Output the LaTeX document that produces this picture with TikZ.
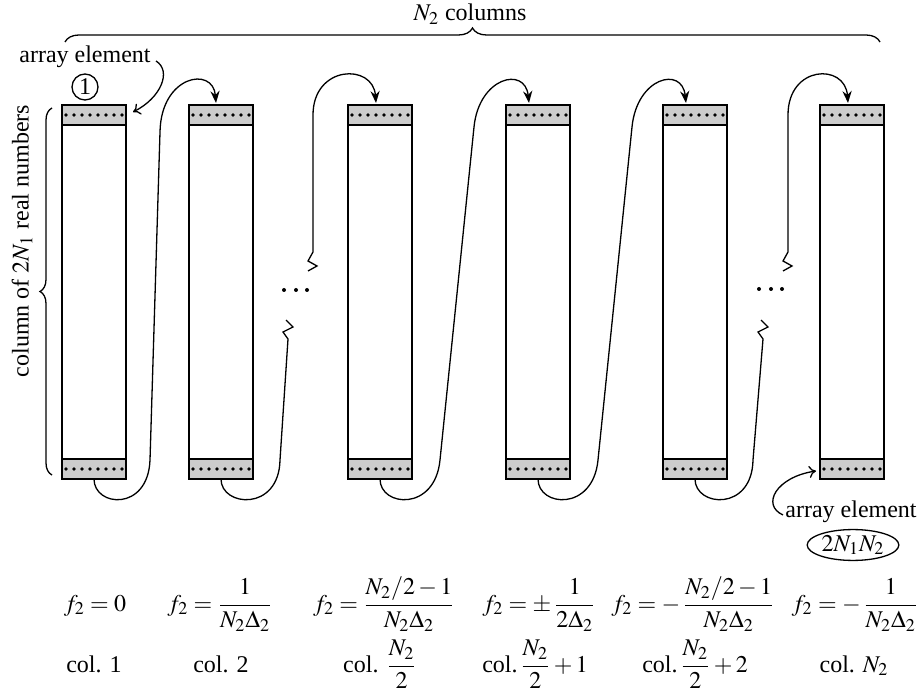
\documentclass[tikz,border=0pt]{standalone}
\usepackage{amsmath}
\usepackage{mathptmx}
\usepackage{fontspec}
\setmainfont{Liberation Serif}
\usetikzlibrary{decorations.pathreplacing,arrows.meta,shapes.geometric,calc}
\tikzset{
  colbox/.style={draw, line width=0.8pt, minimum width=32pt, minimum height=187pt, inner sep=0pt, outer sep=0pt},
  bandfill/.style={fill=black!20, draw, line width=0.8pt},
  conn/.style={line width=0.65pt, -{Stealth[length=6pt,width=4.6pt]}},
  labarrow/.style={line width=0.65pt, -{To[length=3.5pt,width=6pt]}},
  brc/.style={decorate, line width=0.65pt},
  lab/.style={inner sep=1pt},
  frm/.style={anchor=base, inner sep=0pt},
  dotm/.style={fill=black}
}
\begin{document}
\begin{tikzpicture}[x=0.5pt,y=-0.5pt, font=\fontsize{12}{14.4}\selectfont]
\useasboundingbox (0,0) rectangle (920,694);

% columns
\foreach \n/\x in {1/94,2/221,3/380,4/538,5/695,6/852}{
  \node[colbox] (c\n) at (\x,292) {};
  \draw[bandfill] (c\n.north west) rectangle ($(c\n.north east)+(0,20)$);
  \draw[bandfill] ($(c\n.south west)+(0,-20)$) rectangle (c\n.south east);
  \foreach \i in {0,...,7}{
    \fill[dotm] ($(c\n.north west)+(4+8*\i,10)$) circle[radius=0.95pt];
    \fill[dotm] ($(c\n.south west)+(4+8*\i,-10)$) circle[radius=0.95pt];
  }
}

% braces
\draw[brc, decoration={brace, amplitude=7pt}] (65,42) -- (880,42);
\node[lab] (ncols) at (470,14) {$N_2$ columns};
\draw[brc, decoration={brace, amplitude=6pt}] (52,475) -- (52,108);
\node[lab, rotate=90] (colof) at (22,241) {column of $2N_1$ real numbers};

% labels top-left
\node[lab] (ae1) at (85,57) {array element};
\node[circle, draw, line width=0.65pt, minimum size=13pt, inner sep=0pt] (one) at (85,87) {1};
\draw[labarrow] ($(ae1.east)+(3,4)$) .. controls +(16,10) and +(28,-14) .. ($(c1.north east)+(7,7)$);

% labels bottom-right
\node[lab] (ae2) at (851,512) {array element};
\node[ellipse, draw, line width=0.65pt, inner sep=0.5pt] (nn) at (853,545) {$2N_1N_2$};
\draw[labarrow] ($(ae2.west)+(0,3)$) .. controls +(-22,-10) and +(-40,6) .. ($(c6.south west)+(-4,-8)$);

% connector 1 -> 2
\coordinate (b12) at (150,460);
\coordinate (t12) at (160,132);
\draw[conn] (c1.south) .. controls +(0,28) and +(-2,52) .. (b12) -- (t12)
  .. controls +(1,-57) and +(-3,-37) .. ($(c2.north)+(-5,-2)$);

% connector 2 -> 3 (broken)
\coordinate (b23) at (280,460);
\coordinate (z23a) at (288,339);
\coordinate (z23b) at (313,252);
\coordinate (t23) at (313,115);
\draw[line width=0.65pt] (c2.south) .. controls +(0,28) and +(-1,52) .. (b23) -- (z23a)
  -- ++(-5,-7) -- ++(10,-5) -- ++(-7,-7);
\draw[conn] ($(z23b)+(-5,19)$) -- ++(9,-5) -- ++(-9,-5) -- (z23b) -- (t23)
  .. controls +(0,-50) and +(-3,-40) .. ($(c3.north)+(-4,-2)$);

% connector 3 -> 4
\coordinate (b34) at (440,460);
\coordinate (t34) at (474,127);
\draw[conn] (c3.south) .. controls +(0,28) and +(-5,52) .. (b34) -- (t34)
  .. controls +(5,-50) and +(-4,-37) .. ($(c4.north)+(-9,-2)$);

% connector 4 -> 5
\coordinate (b45) at (598,460);
\coordinate (t45) at (632,127);
\draw[conn] (c4.south) .. controls +(0,28) and +(-5,52) .. (b45) -- (t45)
  .. controls +(5,-50) and +(-4,-37) .. ($(c5.north)+(-9,-2)$);

% connector 5 -> 6 (broken)
\coordinate (b56) at (753,460);
\coordinate (z56a) at (763,339);
\coordinate (z56b) at (788,252);
\coordinate (t56) at (788,115);
\draw[line width=0.65pt] (c5.south) .. controls +(0,28) and +(-1,52) .. (b56) -- (z56a)
  -- ++(-5,-7) -- ++(10,-5) -- ++(-7,-7);
\draw[conn] ($(z56b)+(-5,19)$) -- ++(9,-5) -- ++(-9,-5) -- (z56b) -- (t56)
  .. controls +(0,-50) and +(-3,-40) .. ($(c6.north)+(-4,-2)$);

% ellipses
\foreach \x in {284,296,307}{\fill[dotm] (\x,290) circle[radius=1pt];}
\foreach \x in {759,771,782}{\fill[dotm] (\x,289) circle[radius=1pt];}

% frequency labels
\node[frm] (f1) at (95,611) {$f_2 = 0$};
\node[frm] (f2) at (220,611) {$f_2 = \dfrac{1}{N_2\Delta_2}$};
\node[frm] (f3) at (384,611) {$f_2 = \dfrac{N_2/2-1}{N_2\Delta_2}$};
\node[frm] (f4) at (539,611) {$f_2 = \pm\,\dfrac{1}{2\Delta_2}$};
\node[frm] (f5) at (693,611) {$f_2 = -\,\dfrac{N_2/2-1}{N_2\Delta_2}$};
\node[frm] (f6) at (855,611) {$f_2 = -\,\dfrac{1}{N_2\Delta_2}$};

% column labels
\node[frm] (l1) at (94,672) {col. 1};
\node[frm] (l2) at (221,672) {col. 2};
\node[frm] (l3) at (380,672) {col. $\dfrac{N_2}{2}$};
\node[frm] (l4) at (535,672) {col.$\,\dfrac{N_2}{2}+1$};
\node[frm] (l5) at (695,672) {col.$\,\dfrac{N_2}{2}+2$};
\node[frm] (l6) at (854,672) {col. $N_2$};
\end{tikzpicture}
\end{document}
